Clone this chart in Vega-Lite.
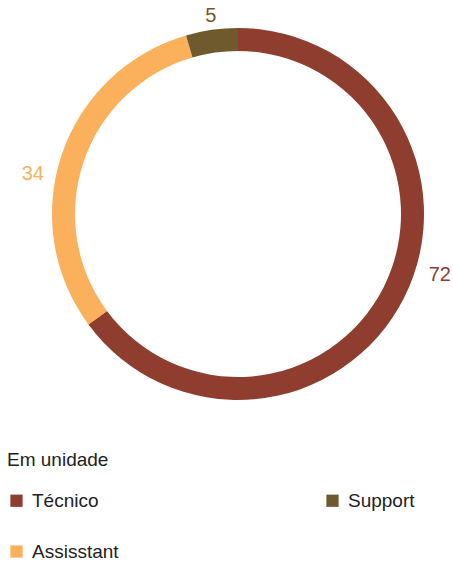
{
  "$schema": "https://vega.github.io/schema/vega-lite/v6.json",
  "autosize": {"type": "none"},
  "padding": {"left": 23, "top": 0, "right": 0, "bottom": 139},
  "width": 430,
  "height": 428,
  "background": "white",
  "data": {"values": [
    {"category": "Técnico", "value": 72, "ord": 1},
    {"category": "Assisstant", "value": 34, "ord": 2},
    {"category": "Support", "value": 5, "ord": 3}
  ]},
  "encoding": {
    "theta": {"field": "value", "type": "quantitative", "stack": true},
    "order": {"field": "ord", "type": "quantitative"},
    "color": {
      "field": "category", "type": "nominal",
      "scale": {"domain": ["Técnico", "Support", "Assisstant"], "range": ["#8E3D2F", "#6F5A2D", "#FBB05B"]},
      "legend": {
        "orient": "none", "legendX": -16, "legendY": 451, "direction": "horizontal", "columns": 2,
        "title": "Em unidade", "titleFont": "Liberation Sans", "titleFontSize": 19, "titleFontWeight": "normal", "titleColor": "#222",
        "titlePadding": 21,
        "labelFont": "Liberation Sans", "labelFontSize": 19, "labelColor": "#222", "labelOffset": 6, "labelLimit": 300,
        "symbolType": "square", "symbolSize": 150, "symbolStrokeWidth": 0, "symbolOpacity": 1,
        "columnPadding": 204, "rowPadding": 31
      }
    }
  },
  "layer": [
    {"mark": {"type": "arc", "outerRadius": 186, "innerRadius": 163}},
    {"mark": {"type": "text", "radius": 207, "font": "Liberation Sans", "fontSize": 20, "dx": 17, "dy": -32},
     "encoding": {"text": {"condition": {"test": "datum.category === 'Técnico'", "field": "value", "type": "quantitative"}, "value": ""}}},
    {"mark": {"type": "text", "radius": 207, "font": "Liberation Sans", "fontSize": 20, "dx": -9, "dy": 26},
     "encoding": {"text": {"condition": {"test": "datum.category === 'Assisstant'", "field": "value", "type": "quantitative"}, "value": ""}}},
    {"mark": {"type": "text", "radius": 207, "font": "Liberation Sans", "fontSize": 20, "dx": 2, "dy": 7},
     "encoding": {"text": {"condition": {"test": "datum.category === 'Support'", "field": "value", "type": "quantitative"}, "value": ""}}}
  ]
}
